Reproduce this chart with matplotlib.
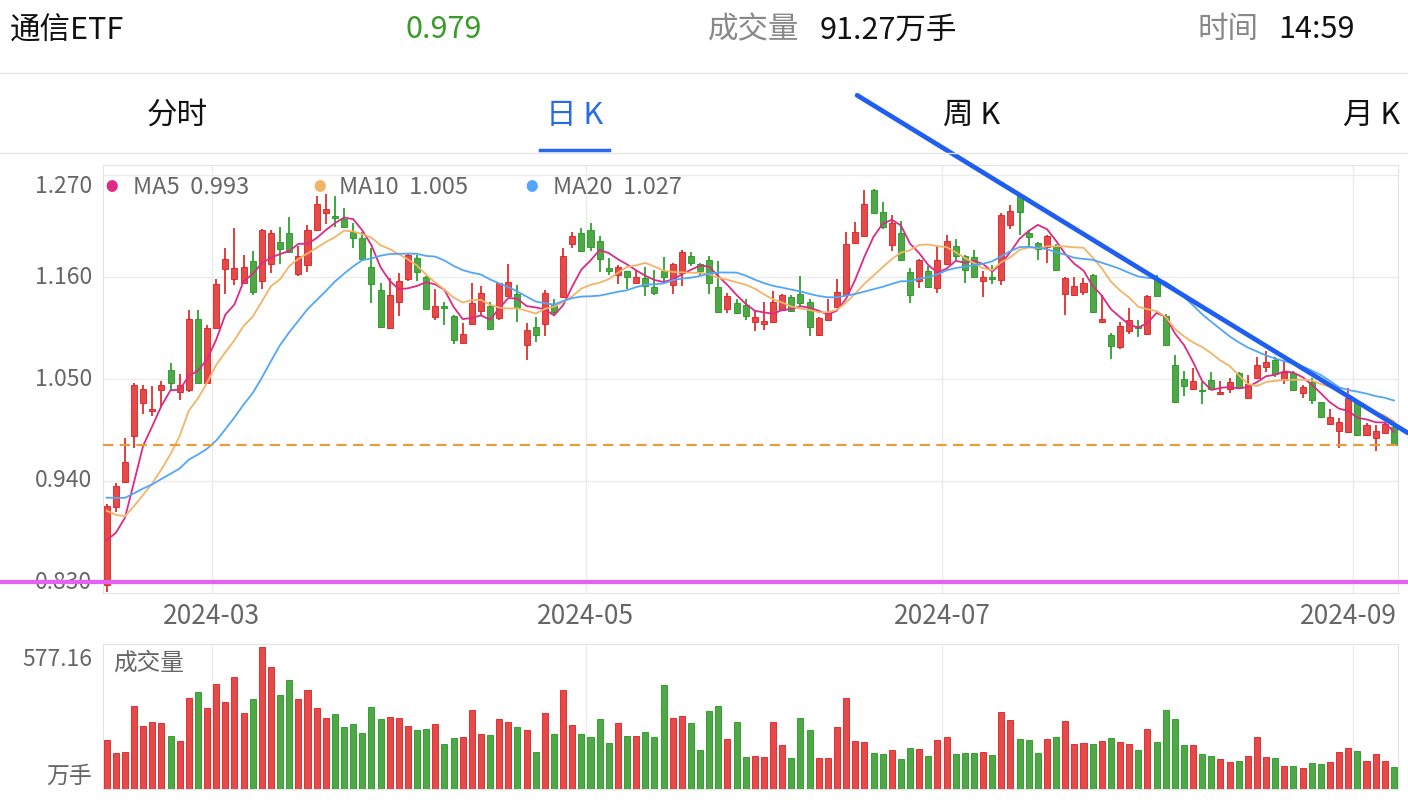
import numpy as np
import pandas as pd
import matplotlib
matplotlib.use('Agg')
import matplotlib.pyplot as plt
from matplotlib import transforms

plt.rcParams['font.family'] = ['Noto Sans CJK SC', 'DejaVu Sans']

# 通信ETF 日K (2024-02-06 ~ 2024-09-06), 价格数据按图估读
opens = [0.828, 0.912, 0.939, 0.988, 1.024, 1.015, 1.038, 1.060, 1.036, 1.038,
         1.115, 1.046, 1.105, 1.169, 1.158, 1.154, 1.177, 1.156, 1.174, 1.198,
         1.208, 1.163, 1.173, 1.211, 1.229, 1.226, 1.223, 1.209, 1.202, 1.171,
         1.146, 1.105, 1.133, 1.158, 1.180, 1.160, 1.117, 1.129, 1.118, 1.089,
         1.109, 1.123, 1.129, 1.116, 1.140, 1.142, 1.087, 1.106, 1.109, 1.131,
         1.138, 1.196, 1.208, 1.211, 1.199, 1.170, 1.162, 1.166, 1.153, 1.159,
         1.149, 1.167, 1.151, 1.164, 1.183, 1.174, 1.178, 1.149, 1.126, 1.132,
         1.130, 1.112, 1.109, 1.111, 1.124, 1.138, 1.142, 1.133, 1.097, 1.114,
         1.128, 1.141, 1.197, 1.204, 1.254, 1.230, 1.195, 1.207, 1.165, 1.156,
         1.166, 1.148, 1.174, 1.193, 1.183, 1.182, 1.156, 1.160, 1.157, 1.216,
         1.248, 1.208, 1.197, 1.192, 1.192, 1.142, 1.141, 1.144, 1.162, 1.111,
         1.097, 1.084, 1.102, 1.107, 1.098, 1.158, 1.118, 1.065, 1.050, 1.039,
         1.038, 1.049, 1.034, 1.039, 1.057, 1.030, 1.051, 1.063, 1.071, 1.049,
         1.057, 1.035, 1.047, 1.025, 1.002, 0.994, 0.993, 1.025, 0.990, 0.986,
         0.992, 0.998]
highs = [0.915, 0.938, 0.986, 1.046, 1.044, 1.042, 1.048, 1.067, 1.055, 1.124,
         1.124, 1.108, 1.158, 1.191, 1.213, 1.184, 1.188, 1.212, 1.211, 1.214,
         1.225, 1.193, 1.216, 1.247, 1.249, 1.247, 1.234, 1.218, 1.209, 1.191,
         1.154, 1.159, 1.164, 1.185, 1.184, 1.161, 1.147, 1.133, 1.119, 1.110,
         1.153, 1.150, 1.133, 1.154, 1.174, 1.151, 1.110, 1.117, 1.146, 1.136,
         1.191, 1.209, 1.213, 1.218, 1.204, 1.180, 1.173, 1.166, 1.168, 1.171,
         1.168, 1.182, 1.175, 1.189, 1.187, 1.175, 1.183, 1.177, 1.143, 1.136,
         1.136, 1.123, 1.133, 1.145, 1.142, 1.141, 1.161, 1.136, 1.117, 1.136,
         1.158, 1.209, 1.219, 1.254, 1.255, 1.241, 1.227, 1.220, 1.170, 1.179,
         1.172, 1.193, 1.205, 1.201, 1.184, 1.189, 1.166, 1.173, 1.229, 1.238,
         1.250, 1.211, 1.198, 1.205, 1.196, 1.160, 1.160, 1.159, 1.163, 1.141,
         1.100, 1.111, 1.127, 1.114, 1.141, 1.162, 1.120, 1.076, 1.059, 1.062,
         1.047, 1.058, 1.048, 1.051, 1.058, 1.054, 1.074, 1.080, 1.074, 1.068,
         1.059, 1.044, 1.051, 1.025, 1.018, 1.008, 1.040, 1.026, 1.003, 1.000,
         1.004, 1.002]
lows = [0.820, 0.907, 0.938, 0.976, 1.012, 1.010, 1.020, 1.038, 1.027, 1.036,
        1.046, 1.045, 1.105, 1.142, 1.151, 1.153, 1.141, 1.147, 1.164, 1.174,
        1.186, 1.161, 1.165, 1.210, 1.217, 1.214, 1.213, 1.191, 1.178, 1.132,
        1.105, 1.104, 1.118, 1.156, 1.156, 1.125, 1.114, 1.108, 1.088, 1.089,
        1.108, 1.119, 1.103, 1.114, 1.139, 1.111, 1.070, 1.090, 1.096, 1.120,
        1.137, 1.191, 1.187, 1.188, 1.165, 1.162, 1.152, 1.147, 1.153, 1.140,
        1.141, 1.156, 1.142, 1.150, 1.172, 1.162, 1.142, 1.121, 1.121, 1.120,
        1.114, 1.102, 1.103, 1.110, 1.123, 1.122, 1.128, 1.096, 1.096, 1.113,
        1.127, 1.140, 1.196, 1.203, 1.228, 1.212, 1.188, 1.177, 1.132, 1.148,
        1.148, 1.143, 1.173, 1.178, 1.154, 1.159, 1.138, 1.152, 1.151, 1.212,
        1.205, 1.193, 1.178, 1.175, 1.167, 1.119, 1.139, 1.141, 1.121, 1.110,
        1.072, 1.082, 1.099, 1.095, 1.097, 1.139, 1.086, 1.024, 1.032, 1.038,
        1.023, 1.038, 1.033, 1.035, 1.039, 1.029, 1.050, 1.058, 1.052, 1.045,
        1.037, 1.029, 1.023, 1.008, 1.000, 0.976, 0.992, 0.989, 0.988, 0.972,
        0.991, 0.978]
closes = [0.913, 0.935, 0.961, 1.043, 1.039, 1.018, 1.044, 1.046, 1.044, 1.115,
          1.046, 1.105, 1.152, 1.179, 1.170, 1.171, 1.144, 1.211, 1.208, 1.190,
          1.187, 1.183, 1.211, 1.239, 1.233, 1.224, 1.214, 1.202, 1.179, 1.152,
          1.106, 1.141, 1.156, 1.184, 1.165, 1.126, 1.129, 1.127, 1.092, 1.099,
          1.132, 1.143, 1.104, 1.153, 1.155, 1.128, 1.103, 1.097, 1.143, 1.122,
          1.183, 1.204, 1.188, 1.192, 1.179, 1.166, 1.171, 1.160, 1.160, 1.150,
          1.143, 1.160, 1.174, 1.187, 1.175, 1.166, 1.154, 1.122, 1.140, 1.121,
          1.118, 1.117, 1.113, 1.133, 1.141, 1.123, 1.132, 1.106, 1.116, 1.121,
          1.144, 1.196, 1.209, 1.239, 1.229, 1.214, 1.218, 1.178, 1.141, 1.178,
          1.149, 1.178, 1.199, 1.183, 1.168, 1.160, 1.160, 1.158, 1.227, 1.231,
          1.230, 1.203, 1.190, 1.204, 1.168, 1.159, 1.150, 1.154, 1.122, 1.115,
          1.086, 1.107, 1.114, 1.105, 1.140, 1.140, 1.087, 1.025, 1.042, 1.048,
          1.037, 1.039, 1.036, 1.047, 1.040, 1.045, 1.065, 1.068, 1.055, 1.058,
          1.038, 1.041, 1.027, 1.009, 1.009, 1.004, 1.029, 0.990, 1.000, 0.994,
          1.002, 0.979]
# 成交量 (万手)
volumes = [200, 149, 153, 339, 257, 275, 268, 215, 198, 371,
           397, 329, 428, 354, 455, 310, 366, 577.16, 496, 383,
           444, 367, 405, 331, 290, 308, 255, 266, 229, 333,
           286, 294, 290, 257, 240, 244, 266, 183, 209, 214,
           322, 224, 221, 286, 275, 255, 243, 153, 310, 225,
           405, 261, 226, 214, 286, 188, 268, 218, 217, 234,
           214, 424, 289, 298, 268, 159, 317, 339, 205, 275,
           133, 137, 130, 272, 182, 129, 291, 240, 126, 126,
           255, 371, 198, 194, 149, 144, 160, 122, 169, 163,
           135, 199, 214, 142, 146, 146, 153, 140, 316, 280,
           203, 201, 149, 203, 214, 279, 186, 190, 186, 195,
           210, 194, 183, 159, 247, 194, 322, 287, 179, 179,
           145, 135, 122, 112, 115, 135, 214, 131, 126, 96,
           96, 85, 106, 102, 112, 152, 167, 157, 114, 145,
           117, 91.27]
# 窗口之前的收盘价, 只用来算均线开头
prior_closes = [0.940, 0.960, 0.945, 0.935, 0.930, 0.925, 0.935, 0.930, 0.925, 0.935,
                0.980, 0.976, 0.935, 0.915, 0.894, 0.895, 0.880, 0.850, 0.842]

tick_pos = [12, 53, 92, 137]
tick_labels = ['2024-03', '2024-05', '2024-07', '2024-09']
price_ticks = [1.270, 1.160, 1.050, 0.940, 0.830]
ma_names = ['MA5', 'MA10', 'MA20']
ma_values = ['0.993', '1.005', '1.027']
last_price = 0.979
support = 0.831
trend_x = [82.2, 142.5]
trend_y = [1.356, 0.992]

W, H = 1408, 808
RED, RED_E = '#e44a4a', '#e01c1c'
GREEN, GREEN_E = '#4fa747', '#1d9a1d'
ma_colors = ['#dc2a86', '#f2b466', '#52a6fa']
GRID = '#ebebeb'
LABEL = '#666'

o = np.array(opens); h = np.array(highs); l = np.array(lows); c = np.array(closes)
n = len(c)
x = np.arange(n)
up = c >= o

allc = pd.Series(prior_closes + closes)
mas = [allc.rolling(k).mean().values[len(prior_closes):] for k in (5, 10, 20)]

fig = plt.figure(figsize=(W / 100, H / 100), dpi=100)


def fx(px):
    return px / W


def fy(py):
    return 1 - py / H


# header
fig.text(fx(10), fy(30), '通信ETF', fontsize=22, va='center', ha='left', color='#111')
fig.text(fx(444), fy(30), '0.979', fontsize=22, va='center', ha='center', color='#3a9a2a')
fig.text(fx(708), fy(30), '成交量', fontsize=22, va='center', ha='left', color='#888')
fig.text(fx(820), fy(30), '91.27万手', fontsize=22, va='center', ha='left', color='#111')
fig.text(fx(1198), fy(30), '时间', fontsize=22, va='center', ha='left', color='#888')
fig.text(fx(1278), fy(30), '14:59', fontsize=22, va='center', ha='left', color='#111')
for tx, lab, col in [(177, '分时', '#111'), (575, '日 K', '#2a6ae8'),
                     (972, '周 K', '#111'), (1372, '月 K', '#111')]:
    fig.text(fx(tx), fy(115), lab, fontsize=22, va='center', ha='center', color=col)
fig.add_artist(plt.Line2D([0, 1], [fy(73), fy(73)], color='#e6e6e6', lw=1))
fig.add_artist(plt.Line2D([0, 1], [fy(153), fy(153)], color='#e6e6e6', lw=1))
fig.add_artist(plt.Line2D([fx(540), fx(609)], [fy(150), fy(150)], color='#2a6ae8', lw=2.5))

# price panel
ax = fig.add_axes([fx(103), fy(593), fx(1398 - 103), (593 - 165) / H])
ax.set_xlim(-0.4, 141.45)
ax.set_ylim(0.8192, 1.2808)
for s in ax.spines.values():
    s.set_color('#e3e3e3')
ax.tick_params(length=0, labelleft=False, labelbottom=False)
for p in price_ticks:
    ax.axhline(p, color=GRID, lw=1, zorder=0)
for t in tick_pos:
    ax.axvline(t - 0.5, color=GRID, lw=1, zorder=0)

body_lo = np.minimum(o, c)
body_h = np.maximum(np.abs(c - o), 0.0012)
ax.vlines(x[up], l[up], h[up], color=RED_E, lw=1.2, zorder=2)
ax.vlines(x[~up], l[~up], h[~up], color=GREEN_E, lw=1.2, zorder=2)
ax.bar(x[up], body_h[up], bottom=body_lo[up], width=0.66, color=RED, edgecolor=RED_E, lw=0.6, zorder=3)
ax.bar(x[~up], body_h[~up], bottom=body_lo[~up], width=0.66, color=GREEN, edgecolor=GREEN_E, lw=0.6, zorder=3)

for ma, col in zip(mas, ma_colors):
    ax.plot(x, ma, color=col, lw=1.3, zorder=4)

ax.axhline(last_price, color='#ee9a3a', lw=1.5, ls=(0, (5, 3)), zorder=4)
ax.plot([0, 1], [support, support], transform=transforms.blended_transform_factory(fig.transFigure, ax.transData),
        color='#e85ff5', lw=3, clip_on=False, zorder=5)
ax.plot(trend_x, trend_y, color='#1f5ef0', lw=3.4, clip_on=False, solid_capstyle='round', zorder=6)

ytr = transforms.blended_transform_factory(fig.transFigure, ax.transData)
for i, p in enumerate(price_ticks):
    ax.text(fx(92), p, f'{p:.3f}', transform=ytr, ha='right', va='top' if i == 0 else 'center',
            fontsize=16.5, color=LABEL)

# 日期标签: 最后一个贴着右边框
xtr = transforms.blended_transform_factory(ax.transData, fig.transFigure)
for j, (t, lab) in enumerate(zip(tick_pos, tick_labels)):
    if j == len(tick_pos) - 1:
        fig.text(fx(1397), fy(616), lab, ha='right', va='center', fontsize=19, color=LABEL)
    else:
        ax.text(t - 0.5, fy(616), lab, transform=xtr, ha='center', va='center',
                fontsize=19, color=LABEL)

for mx, tx, name, val, col in zip([112, 320, 532], [133, 339, 553], ma_names, ma_values, ma_colors):
    fig.text(fx(mx), fy(188), '●', fontsize=9, color=col, ha='center', va='center')
    fig.text(fx(tx), fy(188), f'{name}  {val}', fontsize=17, color=LABEL, ha='left', va='center')

# volume panel
axv = fig.add_axes([fx(103), fy(789.3), fx(1398 - 103), (789.3 - 644) / H])
axv.set_xlim(-0.4, 141.45)
axv.set_ylim(0, 590.6)
for s in axv.spines.values():
    s.set_color('#e3e3e3')
axv.tick_params(length=0, labelleft=False, labelbottom=False)
for t in tick_pos:
    axv.axvline(t - 0.5, color=GRID, lw=1, zorder=0)
v = np.array(volumes)
axv.bar(x[up], v[up], width=0.66, color=RED, edgecolor=RED_E, lw=0.6, zorder=3)
axv.bar(x[~up], v[~up], width=0.66, color=GREEN, edgecolor=GREEN_E, lw=0.6, zorder=3)
fig.text(fx(92), fy(660), '577.16', fontsize=16.5, color=LABEL, ha='right', va='center')
fig.text(fx(92), fy(776), '万手', fontsize=16.5, color=LABEL, ha='right', va='center')
fig.text(fx(113), fy(663), '成交量', fontsize=17, color=LABEL, ha='left', va='center')

fig.savefig('out.png', dpi=100, facecolor='white')
